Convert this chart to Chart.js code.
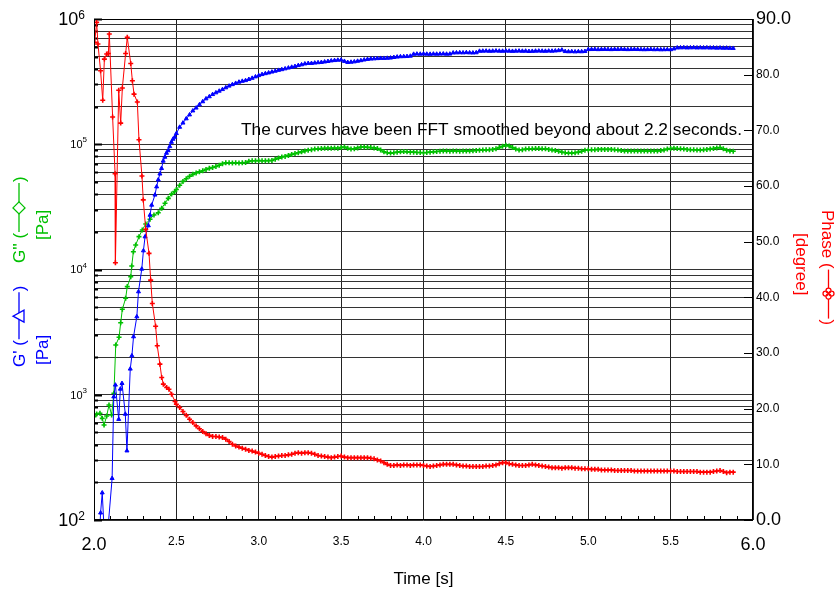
<!DOCTYPE html>
<html>
<head>
<meta charset="utf-8">
<script src="https://cdn.jsdelivr.net/npm/chart.js"></script>
<style>
  body { margin: 0; background: #fff; }
  canvas { display: block; }
</style>
</head>
<body>
<canvas id="rheo" width="838" height="593"></canvas>
<script>
    const FONT = "'Liberation Sans', Arial, sans-serif";

    // Regular time grid shared by all three curves after 2.5 s
    const gridTime = [
        2.50, 2.52, 2.54, 2.56, 2.58, 2.60, 2.62, 2.64, 2.66, 2.68,
        2.70, 2.72, 2.74, 2.76, 2.78, 2.80, 2.82, 2.84, 2.86, 2.88,
        2.90, 2.92, 2.94, 2.96, 2.98, 3.00, 3.02, 3.04, 3.06, 3.08,
        3.10, 3.12, 3.14, 3.16, 3.18, 3.20, 3.22, 3.24, 3.26, 3.28,
        3.30, 3.32, 3.34, 3.36, 3.38, 3.40, 3.42, 3.44, 3.46, 3.48,
        3.50, 3.52, 3.54, 3.56, 3.58, 3.60, 3.62, 3.64, 3.66, 3.68,
        3.70, 3.72, 3.74, 3.76, 3.78, 3.80, 3.82, 3.84, 3.86, 3.88,
        3.90, 3.92, 3.94, 3.96, 3.98, 4.00, 4.02, 4.04, 4.06, 4.08,
        4.10, 4.12, 4.14, 4.16, 4.18, 4.20, 4.22, 4.24, 4.26, 4.28,
        4.30, 4.32, 4.34, 4.36, 4.38, 4.40, 4.42, 4.44, 4.46, 4.48,
        4.50, 4.52, 4.54, 4.56, 4.58, 4.60, 4.62, 4.64, 4.66, 4.68,
        4.70, 4.72, 4.74, 4.76, 4.78, 4.80, 4.82, 4.84, 4.86, 4.88,
        4.90, 4.92, 4.94, 4.96, 4.98, 5.00, 5.02, 5.04, 5.06, 5.08,
        5.10, 5.12, 5.14, 5.16, 5.18, 5.20, 5.22, 5.24, 5.26, 5.28,
        5.30, 5.32, 5.34, 5.36, 5.38, 5.40, 5.42, 5.44, 5.46, 5.48,
        5.50, 5.52, 5.54, 5.56, 5.58, 5.60, 5.62, 5.64, 5.66, 5.68,
        5.70, 5.72, 5.74, 5.76, 5.78, 5.80, 5.82, 5.84, 5.86, 5.88
    ];

    // G' [Pa] - raw part before 2.5 s
    const gpEarlyTime = [2.02, 2.03, 2.04, 2.05, 2.07, 2.11, 2.12, 2.13, 2.15, 2.16, 2.17, 2.19, 2.20, 2.22, 2.23, 2.24,
        2.26, 2.27, 2.29, 2.30, 2.31, 2.33, 2.34, 2.35, 2.37, 2.38, 2.39, 2.40, 2.41, 2.42, 2.43, 2.44, 2.45, 2.46, 2.47, 2.48, 2.49];
    const gpEarly = [50, 60, 114, 165, 50, 215, 964, 1197, 637, 1111, 1233, 701, 357, 1607, 2050, 2910,
        4200, 6650, 10090, 14130, 18270, 22400, 27200, 32700, 39400, 45800, 52000, 58000, 64200, 73500, 79000, 85000, 89000, 96000, 104000, 110000, 114000];
    // G' [Pa] on the grid
    const gpGrid = [
        122000, 137000, 148000, 160000, 172000, 185000, 195000, 207000, 219000, 231000,
        240000, 250000, 258000, 266000, 274000, 283000, 292000, 300000, 307000, 314000,
        319000, 323000, 330000, 337000, 346000, 354000, 361000, 367000, 372000, 378000,
        384000, 390000, 395000, 401000, 407000, 413000, 419000, 426000, 432000, 439000,
        443000, 443000, 446000, 449000, 451000, 455000, 459000, 464000, 467000, 470000,
        471000, 460000, 451000, 453000, 456000, 461000, 466000, 472000, 477000, 480000,
        482000, 484000, 486000, 486000, 487000, 489000, 494000, 498000, 501000, 502000,
        503000, 506000, 524000, 526000, 525000, 527000, 525000, 524000, 526000, 525000,
        526000, 527000, 525000, 526000, 537000, 538000, 539000, 538000, 540000, 538000,
        537000, 539000, 554000, 555000, 556000, 554000, 555000, 557000, 555000, 554000,
        556000, 555000, 553000, 555000, 556000, 554000, 555000, 552000, 553000, 555000,
        556000, 555000, 554000, 556000, 555000, 557000, 560000, 566000, 551000, 549000,
        550000, 548000, 550000, 549000, 552000, 571000, 572000, 573000, 571000, 572000,
        573000, 572000, 571000, 573000, 572000, 574000, 572000, 571000, 572000, 573000,
        572000, 571000, 570000, 571000, 572000, 570000, 571000, 569000, 570000, 571000,
        570000, 578000, 589000, 590000, 591000, 589000, 590000, 591000, 589000, 590000,
        589000, 590000, 588000, 589000, 587000, 588000, 586000, 587000, 585000, 584000
    ];

    // G'' [Pa]
    const gppEarlyTime = [2.00, 2.016, 2.036, 2.05, 2.061, 2.077, 2.091, 2.107, 2.121, 2.132, 2.152, 2.162, 2.172, 2.192, 2.202,
        2.223, 2.229, 2.239, 2.253, 2.273, 2.293, 2.314, 2.34, 2.364, 2.39, 2.411, 2.431, 2.451, 2.471, 2.49];
    const gppEarly = [668, 702, 711, 648, 573, 676, 828, 689, 1028, 2494, 2875, 3760, 4810, 5890, 7300,
        8770, 10670, 13870, 15700, 18300, 20670, 23070, 25170, 27230, 28400, 30800, 33800, 37000, 40000, 42000];
    const gppGrid = [
        43500, 47000, 50500, 53000, 55500, 57500, 59000, 60200, 61500, 63000,
        64200, 65300, 66500, 68000, 70000, 71200, 71200, 71000, 71200, 71000,
        71200, 71500, 73000, 73900, 73900, 74000, 73800, 73900, 74000, 74200,
        76000, 77500, 79000, 80000, 81500, 83000, 84200, 85500, 87000, 88500,
        89500, 90500, 91500, 92000, 92500, 92800, 93000, 93000, 93200, 93000,
        94000, 95000, 93000, 91500, 92000, 93500, 95000, 95000, 94500, 94000,
        93500, 92500, 90000, 87000, 85500, 85000, 85500, 86500, 87000, 87500,
        87000, 86500, 86500, 86000, 86000, 85500, 86000, 86500, 87000, 87500,
        88000, 88500, 88400, 88000, 88500, 88400, 88000, 88200, 88500, 88400,
        88800, 89200, 89500, 90000, 90200, 90500, 91000, 92000, 94000, 96500,
        98000, 97000, 94000, 91500, 90000, 90500, 91500, 92000, 92000, 92500,
        92500, 92000, 92000, 91000, 90000, 89000, 88000, 86500, 85500, 85000,
        85000, 85500, 86500, 88000, 89500, 90000, 90500, 90500, 91000, 91000,
        91000, 91000, 91000, 90500, 90000, 89000, 88500, 88500, 88400, 88400,
        88400, 88500, 88400, 88300, 88400, 88400, 88500, 89000, 90000, 91500,
        92500, 93000, 92500, 92000, 91500, 91000, 90500, 90500, 90000, 90000,
        90500, 91000, 91500, 92500, 93500, 94000, 92000, 89500, 88500, 88000
    ];

    // Phase [degree]
    const phaseEarlyTime = [2.004, 2.016, 2.024, 2.04, 2.053, 2.063, 2.077, 2.087, 2.093, 2.113, 2.128, 2.13, 2.15, 2.162, 2.172,
        2.192, 2.202, 2.223, 2.233, 2.243, 2.263, 2.273, 2.291, 2.299, 2.314, 2.334, 2.344, 2.354, 2.374, 2.384,
        2.40, 2.411, 2.421, 2.441, 2.455, 2.471, 2.492];
    const phaseEarly = [85.8, 89.4, 85.5, 80.7, 75.4, 82.8, 83.7, 83.8, 87.3, 72.4, 62.2, 46.2, 77.2, 71.3, 77.6,
        83.8, 86.7, 82.0, 78.9, 76.5, 75.1, 68.3, 61.8, 57.5, 52.2, 47.9, 43.1, 38.9, 34.8, 31.3,
        28.0, 25.6, 24.4, 23.8, 23.5, 22.6, 21.3];
    const phaseGrid = [
        20.8, 20.2, 19.5, 18.8, 18.1, 17.5, 16.9, 16.4, 15.9, 15.5,
        15.2, 15.0, 15.0, 14.9, 14.8, 14.5, 14.1, 13.6, 13.3, 13.1,
        12.9, 12.7, 12.5, 12.4, 12.2, 12.0, 11.8, 11.6, 11.4, 11.3,
        11.4, 11.5, 11.6, 11.6, 11.7, 11.8, 12.0, 12.1, 12.0, 12.1,
        12.1, 12.0, 11.8, 11.6, 11.5, 11.4, 11.3, 11.2, 11.3, 11.4,
        11.5, 11.3, 11.2, 11.2, 11.2, 11.2, 11.2, 11.2, 11.2, 11.1,
        11.0, 10.8, 10.6, 10.3, 10.0, 9.8, 9.8, 9.9, 9.8, 9.9,
        9.9, 9.8, 9.9, 9.9, 9.9, 9.8, 9.7, 9.6, 9.7, 9.8,
        9.9, 10.0, 10.0, 10.0, 10.0, 9.9, 9.8, 9.7, 9.7, 9.6,
        9.6, 9.6, 9.6, 9.6, 9.7, 9.7, 9.8, 9.9, 10.1, 10.3,
        10.3, 10.1, 10.0, 9.9, 9.8, 9.8, 9.8, 9.9, 10.0, 9.9,
        9.8, 9.7, 9.6, 9.5, 9.4, 9.4, 9.4, 9.3, 9.4, 9.4,
        9.4, 9.3, 9.3, 9.2, 9.2, 9.2, 9.1, 9.1, 9.1, 9.0,
        9.0, 9.0, 9.0, 8.9, 8.9, 8.9, 8.9, 8.9, 8.9, 8.8,
        8.8, 8.8, 8.8, 8.8, 8.8, 8.8, 8.8, 8.8, 8.8, 8.8,
        8.8, 8.8, 8.7, 8.7, 8.7, 8.7, 8.7, 8.7, 8.7, 8.6,
        8.6, 8.6, 8.6, 8.7, 8.8, 8.9, 8.7, 8.5, 8.6, 8.6
    ];

    // Axis ticks
    const leftDecades = [1e2, 1e3, 1e4, 1e5, 1e6];
    const leftMinor = [2, 3, 4, 5, 6, 7, 8, 9];
    const note = 'The curves have been FFT smoothed beyond about 2.2 seconds.';

    const BLUE = '#0000ff', GREEN = '#00c000', RED = '#ff0000';

    function pts(times, values) {
        return times.map((t, i) => ({ x: t, y: values[i] }));
    }

    const leftTickValues = [];
    leftDecades.forEach((d, i) => {
        leftTickValues.push(d);
        if (i < leftDecades.length - 1) leftMinor.forEach(m => leftTickValues.push(m * d));
    });

    // draws a rotated label: text, a line with a marker, closing text
    function rotLabel(ctx, cx, cy, angle, parts, color, size) {
        ctx.save();
        ctx.translate(cx, cy);
        ctx.rotate(angle);
        ctx.fillStyle = color;
        ctx.strokeStyle = color;
        ctx.font = `${size}px ${FONT}`;
        ctx.textBaseline = 'alphabetic';
        let s = 0;
        parts.forEach(p => {
            if (typeof p === 'string') {
                ctx.fillText(p, s, size * 0.36);
                s += ctx.measureText(p).width;
            } else {
                ctx.lineWidth = 1.3;
                ctx.beginPath();
                ctx.moveTo(s + 1, 0);
                ctx.lineTo(s + p.len, 0);
                ctx.stroke();
                const m = s + p.len / 2;
                ctx.beginPath();
                if (p.mark === 'triangle') {
                    ctx.moveTo(m, -6); ctx.lineTo(m - 6, 5); ctx.lineTo(m + 6, 5); ctx.closePath();
                } else if (p.mark === 'diamond') {
                    ctx.moveTo(m, -6); ctx.lineTo(m + 6, 0); ctx.lineTo(m, 6); ctx.lineTo(m - 6, 0); ctx.closePath();
                } else {
                    [[-3, 0], [3, 0], [0, -3], [0, 3]].forEach(([dx, dy]) => {
                        ctx.moveTo(m + dx + 2.5, dy);
                        ctx.arc(m + dx, dy, 2.5, 0, Math.PI * 2);
                    });
                }
                ctx.fillStyle = '#fff';
                ctx.fill();
                ctx.stroke();
                ctx.fillStyle = color;
                s += p.len + 1;
            }
        });
        ctx.restore();
    }

    const decor = {
        id: 'decor',
        beforeDatasetsDraw(chart) {
            const { ctx, chartArea: a, scales: { x, y, y2 } } = chart;
            ctx.save();
            ctx.strokeStyle = '#000';
            // inner ticks on the left axis
            ctx.lineWidth = 2;
            ctx.beginPath();
            y.ticks.forEach(t => {
                const py = Math.round(y.getPixelForValue(t.value)) + 0.5;
                const len = leftDecades.includes(t.value) ? 8 : 4;
                ctx.moveTo(a.left, py); ctx.lineTo(a.left + len, py);
            });
            ctx.stroke();
            // minor ticks on the time axis
            ctx.lineWidth = 1;
            ctx.beginPath();
            for (let i = 1; i < 40; i++) {
                if (i % 5 === 0) continue;
                const px = Math.round(x.getPixelForValue(2 + i * 0.1)) + 0.5;
                ctx.moveTo(px, a.bottom); ctx.lineTo(px, a.bottom - 4);
            }
            // inner ticks on the phase axis
            y2.ticks.forEach(t => {
                const py = Math.round(y2.getPixelForValue(t.value)) + 0.5;
                ctx.moveTo(a.right - 9, py); ctx.lineTo(a.right, py);
            });
            ctx.stroke();
            ctx.restore();
        },
        afterDraw(chart) {
            const { ctx, chartArea: a, scales: { y } } = chart;
            ctx.save();
            ctx.strokeStyle = '#000';
            ctx.lineWidth = 1;
            ctx.strokeRect(Math.round(a.left) + 0.5, Math.round(a.top) + 0.5,
                Math.round(a.width) - 1, Math.round(a.height) - 1);

            // left decade labels with superscripts
            ctx.fillStyle = '#000';
            ctx.textBaseline = 'alphabetic';
            leftDecades.forEach((d, i) => {
                const py = y.getPixelForValue(d);
                const big = i === 0 || i === leftDecades.length - 1;
                const bs = big ? 18 : 11, ss = big ? 12 : 8;
                const exp = String(Math.round(Math.log10(d)));
                ctx.font = `${bs}px ${FONT}`;
                const wb = ctx.measureText('10').width;
                ctx.font = `${ss}px ${FONT}`;
                const ws = ctx.measureText(exp).width;
                const x0 = (big ? 85 : 87) - wb - ws;
                ctx.font = `${bs}px ${FONT}`;
                ctx.fillText('10', x0, py + bs * 0.36);
                ctx.font = `${ss}px ${FONT}`;
                ctx.fillText(exp, x0 + wb, py + (big ? -0.5 : -2));
            });

            // annotation
            ctx.font = `17px ${FONT}`;
            const w = ctx.measureText(note).width;
            ctx.save();
            ctx.translate(241, 135);
            ctx.scale(501 / w, 1);
            ctx.fillText(note, 0, 0);
            ctx.restore();

            // axis titles
            ctx.font = `17px ${FONT}`;
            ctx.textAlign = 'center';
            ctx.fillText('Time [s]', (a.left + a.right) / 2, 584);
            ctx.textAlign = 'left';

            rotLabel(ctx, 19, 367, -Math.PI / 2, ["G' (", { len: 48, mark: 'triangle' }, ')'], BLUE, 17);
            rotLabel(ctx, 41.5, 365, -Math.PI / 2, ['[Pa]'], BLUE, 17);
            rotLabel(ctx, 19, 263, -Math.PI / 2, ["G'' (", { len: 50, mark: 'diamond' }, ')'], GREEN, 17);
            rotLabel(ctx, 41.5, 240, -Math.PI / 2, ['[Pa]'], GREEN, 17);
            rotLabel(ctx, 828.5, 210, Math.PI / 2, ['Phase (', { len: 50, mark: 'flower' }, ')'], RED, 17);
            rotLabel(ctx, 802.5, 233, Math.PI / 2, ['[degree]'], RED, 17);
            ctx.restore();
        }
    };

    const bigEnds = (ends) => (c) => ({
        family: FONT,
        size: c.tick && ends.includes(c.tick.value) ? 18 : 12
    });

    new Chart(document.getElementById('rheo'), {
        type: 'line',
        data: {
            datasets: [
                {
                    label: 'Phase',
                    data: pts(phaseEarlyTime.concat(gridTime), phaseEarly.concat(phaseGrid)),
                    yAxisID: 'y2',
                    borderColor: RED, backgroundColor: RED,
                    borderWidth: 1, pointStyle: 'cross', pointRadius: 2.5, pointBorderWidth: 1.6
                },
                {
                    label: "G'",
                    data: pts(gpEarlyTime.concat(gridTime), gpEarly.concat(gpGrid)),
                    yAxisID: 'y',
                    borderColor: BLUE, backgroundColor: BLUE,
                    borderWidth: 1, pointStyle: 'triangle', pointRadius: 2.3, pointBorderWidth: 1
                },
                {
                    label: "G''",
                    data: pts(gppEarlyTime.concat(gridTime), gppEarly.concat(gppGrid)),
                    yAxisID: 'y',
                    borderColor: GREEN, backgroundColor: GREEN,
                    borderWidth: 1, pointStyle: 'cross', pointRadius: 2.5, pointBorderWidth: 1.6
                }
            ]
        },
        options: {
            responsive: false,
            devicePixelRatio: 1,
            animation: false,
            layout: { padding: { top: 19, left: 0, right: 0, bottom: 0 } },
            elements: { line: { tension: 0 } },
            plugins: { legend: { display: false }, tooltip: { enabled: false } },
            scales: {
                x: {
                    type: 'linear', min: 2, max: 6,
                    afterFit: (s) => { s.height = 73; },
                    grid: { color: '#222', lineWidth: 1, drawTicks: false },
                    border: { display: false },
                    ticks: {
                        stepSize: 0.5, autoSkip: false, padding: 14, color: '#000',
                        font: bigEnds([2, 6]),
                        callback: (v) => v.toFixed(1)
                    }
                },
                y: {
                    type: 'logarithmic', position: 'left', min: 100, max: 1e6,
                    afterBuildTicks: (s) => { s.ticks = leftTickValues.map(v => ({ value: v })); },
                    afterFit: (s) => { s.width = 94; },
                    grid: { color: '#333', lineWidth: 1, drawTicks: false },
                    border: { display: false },
                    ticks: { display: false }
                },
                y2: {
                    type: 'linear', position: 'right', min: 0, max: 90,
                    afterFit: (s) => { s.width = 85; },
                    grid: { drawOnChartArea: false, drawTicks: false },
                    border: { display: false },
                    ticks: {
                        stepSize: 10, padding: 3, color: '#000',
                        font: bigEnds([0, 90]),
                        callback: (v) => v.toFixed(1)
                    }
                }
            }
        },
        plugins: [decor]
    });
</script>
</body>
</html>
